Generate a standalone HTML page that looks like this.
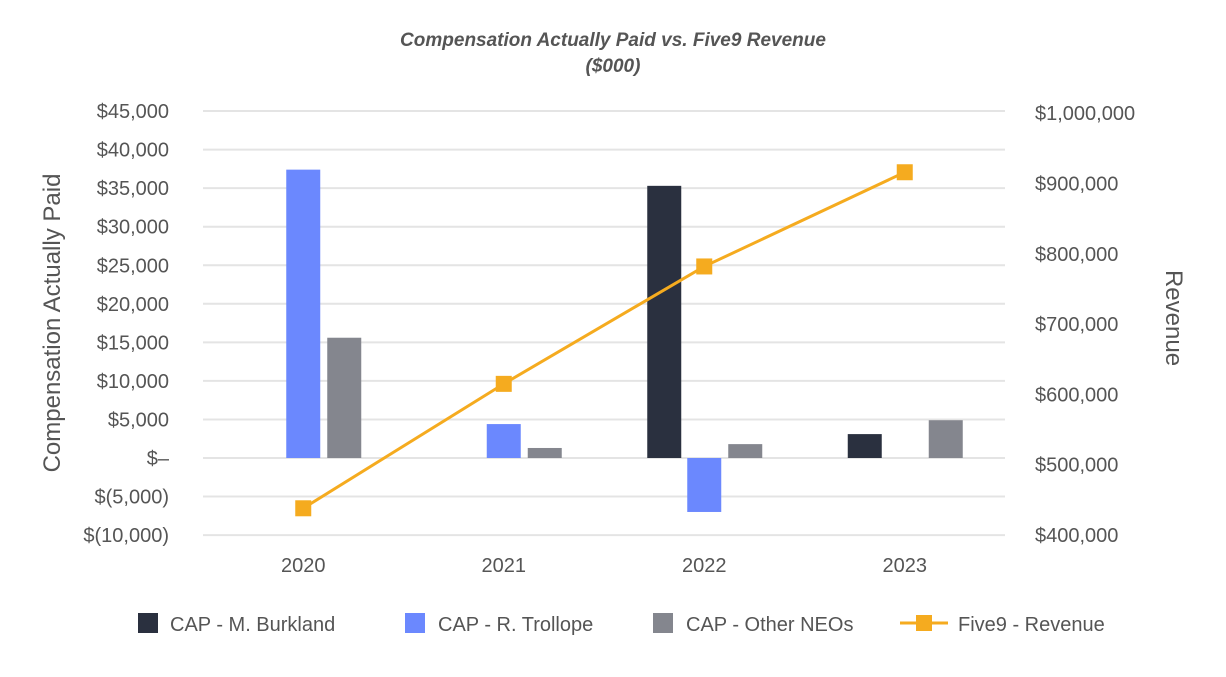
<!DOCTYPE html>
<html><head><meta charset="utf-8"><style>
body{margin:0;background:#fff;font-family:"Liberation Sans",sans-serif;}
svg text{font-family:"Liberation Sans",sans-serif;fill:#555;}
</style></head><body>
<svg width="1226" height="672" id="c">
<text x="613" y="46" text-anchor="middle" font-size="19" font-style="italic" font-weight="bold">Compensation Actually Paid vs. Five9 Revenue</text>
<text x="613" y="72" text-anchor="middle" font-size="19" font-style="italic" font-weight="bold">($000)</text>
<text transform="translate(60,323) rotate(-90)" text-anchor="middle" font-size="24">Compensation Actually Paid</text>
<text transform="translate(1166,318) rotate(90)" text-anchor="middle" font-size="24">Revenue</text>
<g id="grid"></g><g id="bars"></g><g id="line"></g><g id="axes"></g>
<g font-size="20">
<rect x="138" y="613" width="20" height="20" fill="#2a303f"/>
<text x="170" y="631">CAP - M. Burkland</text>
<rect x="405" y="613" width="20" height="20" fill="#6b88fe"/>
<text x="438" y="631">CAP - R. Trollope</text>
<rect x="653" y="613" width="20" height="20" fill="#84868e"/>
<text x="686" y="631">CAP - Other NEOs</text>
<line x1="900" y1="623" x2="948" y2="623" stroke="#f5ab1f" stroke-width="3"/>
<rect x="916" y="615" width="16" height="16" fill="#f5ab1f"/>
<text x="958" y="631">Five9 - Revenue</text>
</g>
</svg>
<script>
const years=["2020","2021","2022","2023"];
const burkland=[null,null,35300,3100];
const trollope=[37400,4400,-7000,null];
const others=[15600,1300,1800,4900];
const revenue=[438000,615000,782000,916000];
const leftTicks=[-10000,-5000,0,5000,10000,15000,20000,25000,30000,35000,40000,45000];
const rightTicks=[400000,500000,600000,700000,800000,900000,1000000];
const NS="http://www.w3.org/2000/svg";
const X0=203,X1=1005;
function yL(v){return 458-v/5000*38.55;}
function yR(v){return 535-(v-400000)/100000*70.3;}
function xC(i){return X0+(X1-X0)/years.length*(i+0.5);}
function mk(t,a,p){const e=document.createElementNS(NS,t);for(const k in a)e.setAttribute(k,a[k]);document.getElementById(p).appendChild(e);return e;}
function fmtL(v){if(v===0)return"$\u2013";const s=Math.abs(v).toLocaleString("en-US");return v<0?"$("+s+")":"$"+s;}
leftTicks.forEach(v=>{
 const g=mk("line",{x1:X0,x2:X1,y1:yL(v),y2:yL(v),stroke:"#e4e4e4","stroke-width":2},"grid");
 
 
 const t=mk("text",{x:169,y:yL(v)+7,"text-anchor":"end","font-size":20},"axes");t.textContent=fmtL(v);
 
 
});
rightTicks.forEach(v=>{
 const t=mk("text",{x:1035,y:yR(v)+7,"font-size":20},"axes");t.textContent="$"+v.toLocaleString("en-US");
 
 
});
years.forEach((y,i)=>{
 const t=mk("text",{x:xC(i),y:572,"text-anchor":"middle","font-size":20},"axes");t.textContent=y;
 
 
});
const series=[[burkland,"#2a303f",-40,"burkland"],[trollope,"#6b88fe",0,"trollope"],[others,"#84868e",41,"other"]];
series.forEach(([arr,col,off,nm])=>{
 arr.forEach((v,i)=>{
  if(v===null)return;
  const y0=yL(0),y1=yL(v);
  const r=mk("rect",{x:xC(i)+off-17,y:Math.min(y0,y1),width:34,height:Math.abs(y1-y0),fill:col},"bars");
  
  
 });
});
const pts=revenue.map((v,i)=>xC(i)+","+yR(v)).join(" ");
const pl=mk("polyline",{points:pts,fill:"none",stroke:"#f5ab1f","stroke-width":3},"line");


revenue.forEach((v,i)=>{
 const m=mk("rect",{x:xC(i)-8,y:yR(v)-8,width:16,height:16,fill:"#f5ab1f"},"line");
 
 
});
</script>
</body></html>
